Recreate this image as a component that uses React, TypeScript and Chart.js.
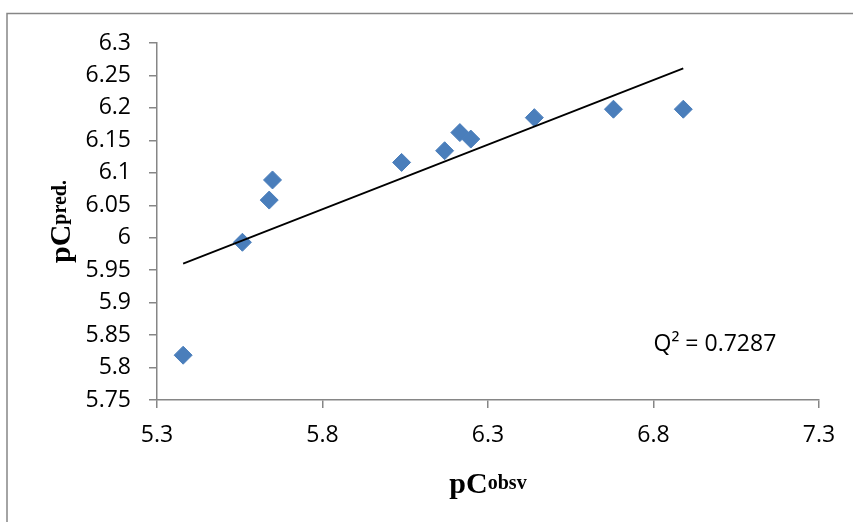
import React, { useEffect, useRef } from 'react';
import { Chart, registerables } from 'chart.js';

Chart.register(...registerables);

const OBSERVED = [5.379, 5.558, 5.639, 5.649, 6.039, 6.169, 6.215, 6.248, 6.44, 6.679, 6.89];
const PREDICTED = [5.819, 5.993, 6.058, 6.089, 6.116, 6.134, 6.162, 6.152, 6.185, 6.198, 6.198];
const TREND_X = [5.379, 6.89];
const TREND_Y = [5.96, 6.261];
const X_TICKS = [5.3, 5.8, 6.3, 6.8, 7.3];
const X_TICK_LABELS = ['5.3', '5.8', '6.3', '6.8', '7.3'];
const Y_TICKS = [5.75, 5.8, 5.85, 5.9, 5.95, 6, 6.05, 6.1, 6.15, 6.2, 6.25, 6.3];
const Y_TICK_LABELS = ['5.75', '5.8', '5.85', '5.9', '5.95', '6', '6.05', '6.1', '6.15', '6.2', '6.25', '6.3'];
const ANNOTATION = 'Q² = 0.7287';
const ANNOTATION_AT = [6.8, 5.825];
const X_TITLE = ['pC', 'obsv'];
const Y_TITLE = ['pC', 'pred.'];

const TICK_FONT = '"Open Sans", sans-serif';
const AXIS_COLOR = '#868686';

const drawTitle = (ctx: CanvasRenderingContext2D, main: string, sub: string, cx: number, baseline: number) => {
  ctx.font = 'bold 30px "Liberation Serif", serif';
  const w1 = ctx.measureText(main).width;
  ctx.font = 'bold 20px "Liberation Serif", serif';
  const w2 = ctx.measureText(sub).width;
  const start = cx - (w1 + w2) / 2;
  ctx.textAlign = 'left';
  ctx.textBaseline = 'alphabetic';
  ctx.fillStyle = '#000';
  ctx.font = 'bold 30px "Liberation Serif", serif';
  ctx.fillText(main, start, baseline);
  ctx.font = 'bold 20px "Liberation Serif", serif';
  ctx.fillText(sub, start + w1, baseline - 4);
};

const decorPlugin = {
  id: 'decor',
  afterDraw(chart: any) {
    const ctx: CanvasRenderingContext2D = chart.ctx;
    const area = chart.chartArea;
    const xs = chart.scales.x;
    const ys = chart.scales.y;
    ctx.save();
    // outer frame
    ctx.strokeStyle = AXIS_COLOR;
    ctx.lineWidth = 1.5;
    ctx.beginPath();
    ctx.moveTo(7, chart.height + 5);
    ctx.lineTo(7, 13.5);
    ctx.lineTo(chart.width + 5, 13.5);
    ctx.stroke();

    // x title
    drawTitle(ctx, X_TITLE[0], X_TITLE[1], (area.left + area.right) / 2, 493);

    // y title
    ctx.save();
    ctx.translate(69.5, (area.top + area.bottom) / 2);
    ctx.rotate(-Math.PI / 2);
    drawTitle(ctx, Y_TITLE[0], Y_TITLE[1], 0, 0);
    ctx.restore();

    // annotation
    ctx.font = `23px ${TICK_FONT}`;
    ctx.fillStyle = '#000';
    ctx.textAlign = 'left';
    ctx.textBaseline = 'alphabetic';
    ctx.fillText(ANNOTATION, xs.getPixelForValue(ANNOTATION_AT[0]), ys.getPixelForValue(ANNOTATION_AT[1]));
    ctx.restore();
  },
};

export default function App() {
  const ref = useRef<HTMLCanvasElement>(null);

  useEffect(() => {
    document.body.style.margin = '0';
    const canvas = ref.current;
    if (!canvas) return;
    const chart = new Chart(canvas, {
      type: 'scatter',
      data: {
        datasets: [
          {
            type: 'line',
            data: TREND_X.map((x, i) => ({ x, y: TREND_Y[i] })),
            borderColor: '#000',
            borderWidth: 1.8,
            pointRadius: 0,
            fill: false,
            showLine: true,
          } as any,
          {
            data: OBSERVED.map((x, i) => ({ x, y: PREDICTED[i] })),
            pointStyle: 'rectRot',
            pointRadius: 9,
            pointBackgroundColor: '#4a7ebb',
            pointBorderColor: '#4a7ebb',
            pointBorderWidth: 1,
            backgroundColor: '#4a7ebb',
            borderColor: '#4a7ebb',
          },
        ],
      },
      options: {
        responsive: false,
        animation: false,
        devicePixelRatio: 1,
        layout: { padding: { left: 0, top: 43, right: 34, bottom: 0 } },
        plugins: { legend: { display: false }, tooltip: { enabled: false }, title: { display: false } },
        scales: {
          x: {
            type: 'linear',
            min: 5.3,
            max: 7.3,
            afterBuildTicks: (s: any) => {
              s.ticks = X_TICKS.map((v) => ({ value: v }));
            },
            afterFit: (s: any) => {
              s.height = 122;
            },
            ticks: {
              callback: (v: any) => {
                const i = X_TICKS.findIndex((t) => Math.abs(t - Number(v)) < 1e-6);
                return i >= 0 ? X_TICK_LABELS[i] : '';
              },
              font: { family: TICK_FONT, size: 23 },
              color: '#000',
              padding: 14,
              maxRotation: 0,
              autoSkip: false,
            },
            grid: { drawOnChartArea: false, drawTicks: true, tickLength: 8, color: AXIS_COLOR, lineWidth: 1.5 },
            border: { color: AXIS_COLOR, width: 1.5 },
          },
          y: {
            type: 'linear',
            min: 5.75,
            max: 6.3,
            afterBuildTicks: (s: any) => {
              s.ticks = Y_TICKS.map((v) => ({ value: v }));
            },
            afterFit: (s: any) => {
              s.width = 157;
            },
            ticks: {
              callback: (v: any) => {
                const i = Y_TICKS.findIndex((t) => Math.abs(t - Number(v)) < 1e-6);
                return i >= 0 ? Y_TICK_LABELS[i] : '';
              },
              font: { family: TICK_FONT, size: 23 },
              color: '#000',
              padding: 18,
              autoSkip: false,
            },
            grid: { drawOnChartArea: false, drawTicks: true, tickLength: 8, color: AXIS_COLOR, lineWidth: 1.5 },
            border: { color: AXIS_COLOR, width: 1.5 },
          },
        },
      },
      plugins: [decorPlugin],
    });
    return () => chart.destroy();
  }, []);

  return (
    <div style={{ width: 853, height: 522, background: '#fff' }}>
      <canvas ref={ref} width={853} height={522} style={{ display: 'block' }} />
    </div>
  );
}
